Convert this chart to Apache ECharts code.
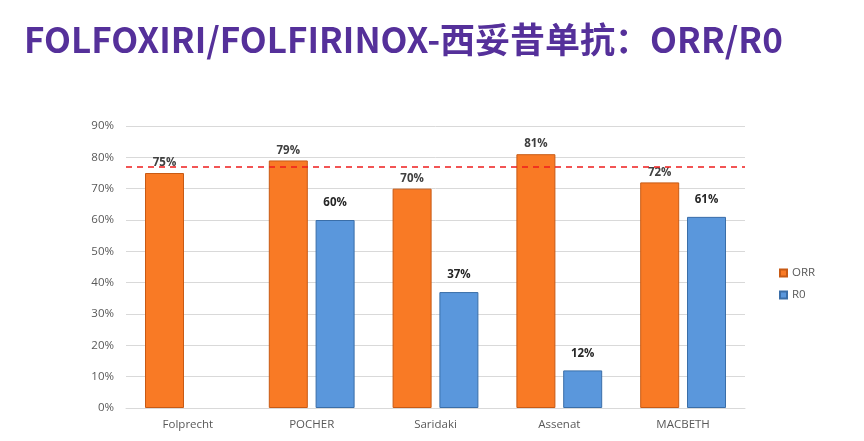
<!DOCTYPE html>
<html>
<head>
<meta charset="utf-8">
<title>ORR/R0</title>
<script src="https://cdn.jsdelivr.net/npm/echarts@6/dist/echarts.min.js"></script>
<style>
  html, body { margin: 0; padding: 0; background: #fff; }
  #main { width: 864px; height: 441px; }
</style>
</head>
<body>
<div id="main"></div>
<script>
// 数据
var categories = ['Folprecht', 'POCHER', 'Saridaki', 'Assenat', 'MACBETH'];
var orrValues = [75, 79, 70, 81, 72];
var r0Values = [null, 60, 37, 12, 61];
var refLine = 77;
var yTicks = [0, 10, 20, 30, 40, 50, 60, 70, 80, 90];

var chart = echarts.init(document.getElementById('main'), null, { renderer: 'canvas' });

var option = {
  backgroundColor: '#fff',
  animation: false,
  textStyle: { fontFamily: '"Open Sans", "Noto Sans", sans-serif' },
  title: {
    text: 'FOLFOXIRI/FOLFIRINOX-西妥昔单抗：ORR/R0',
    left: 19,
    top: 17,
    textStyle: {
      fontFamily: '"Noto Sans CJK SC", "Noto Sans", sans-serif',
      fontSize: 35,
      fontWeight: 'bold',
      color: '#55309a'
    }
  },
  legend: {
    orient: 'vertical',
    left: 774,
    top: 262,
    itemWidth: 7,
    itemHeight: 7,
    itemGap: 10,
    icon: 'rect',
    textStyle: { color: '#595959', fontSize: 11.5 },
    data: ['ORR', 'R0']
  },
  grid: { left: 126, right: 119, top: 126, bottom: 33 },
  xAxis: {
    type: 'category',
    data: categories,
    axisLine: { lineStyle: { color: '#d9d9d9' } },
    axisTick: { show: false },
    axisLabel: { color: '#595959', fontSize: 11.5, margin: 11 }
  },
  yAxis: {
    type: 'value',
    min: yTicks[0],
    max: yTicks[yTicks.length - 1],
    interval: 10,
    axisLine: { show: false },
    axisTick: { show: false },
    splitLine: { lineStyle: { color: '#d9d9d9' } },
    axisLabel: { color: '#595959', fontSize: 11.5, margin: 12, formatter: '{value}%' }
  },
  series: [
    {
      name: 'ORR',
      type: 'bar',
      data: orrValues,
      barWidth: 39,
      barGap: '20%',
      itemStyle: { color: '#f97a25', borderColor: '#c85a14', borderWidth: 1 },
      label: {
        show: true, position: 'top', distance: 4,
        formatter: '{c}%', color: '#404040', fontWeight: 'bold', fontSize: 11.5
      },
      markLine: {
        silent: true,
        symbol: 'none',
        label: { show: false },
        lineStyle: { color: '#ee1c1c', type: [6, 5], width: 1.5 },
        data: [{ yAxis: refLine }]
      }
    },
    {
      name: 'R0',
      type: 'bar',
      data: r0Values,
      barWidth: 39,
      itemStyle: { color: '#5a97dc', borderColor: '#3a6ea8', borderWidth: 1 },
      label: {
        show: true, position: 'top', distance: 11,
        formatter: '{c}%', color: '#262626', fontWeight: 'bold', fontSize: 11.5
      }
    }
  ]
};

chart.setOption(option);
</script>
</body>
</html>
